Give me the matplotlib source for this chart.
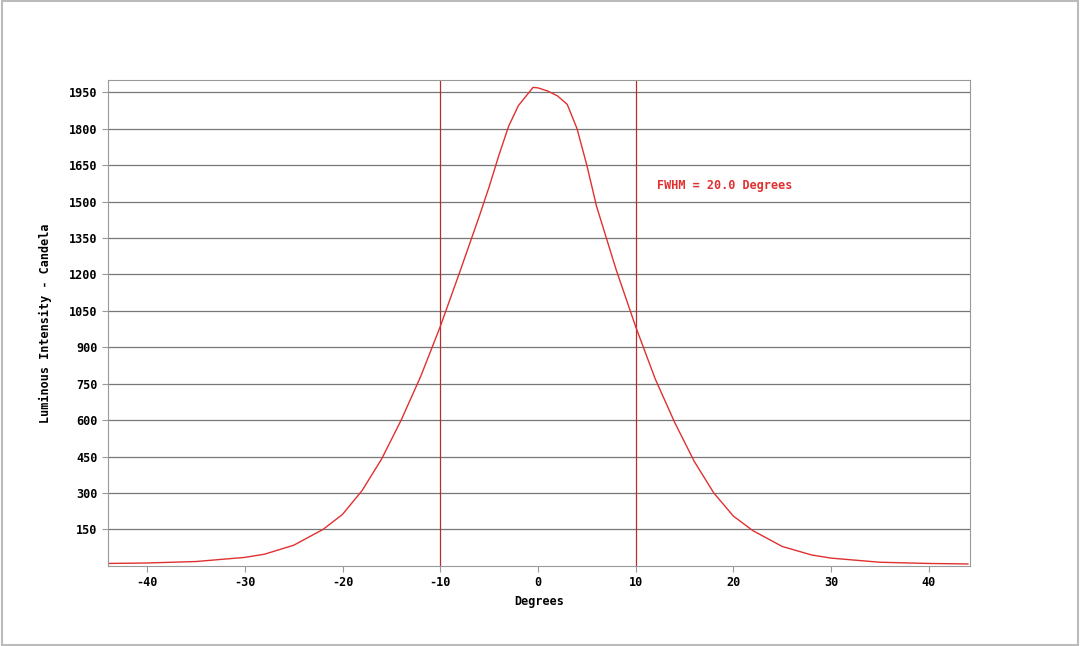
import matplotlib
matplotlib.use("Agg")
import matplotlib.pyplot as plt
from matplotlib.patches import Rectangle

deg = [-44, -40, -35, -30, -28, -25, -22, -20, -18, -16, -14, -12, -10, -8, -6, -5, -4, -3, -2, -1, -0.5, 0, 1, 2, 3, 4, 5, 6, 8, 10, 12, 14, 16, 18, 20, 22, 25, 28, 30, 35, 40, 44]
cd = [10, 12, 18, 35, 48, 85, 150, 212, 310, 440, 600, 780, 985, 1210, 1440, 1560, 1690, 1810, 1895, 1945, 1970, 1968, 1955, 1935, 1900, 1800, 1650, 1480, 1220, 985, 770, 590, 430, 300, 205, 145, 80, 45, 32, 15, 10, 8]
yticks = [150, 300, 450, 600, 750, 900, 1050, 1200, 1350, 1500, 1650, 1800, 1950]
xticks = [-40, -30, -20, -10, 0, 10, 20, 30, 40]
fwhm_lines = [-10, 10]

plt.rcParams['font.family'] = ['DejaVu Sans Mono']
plt.rcParams['axes.unicode_minus'] = False
fig = plt.figure(figsize=(10.8, 6.46), dpi=100)
fig.patches.append(Rectangle((0.002, 0.002), 0.996, 0.996, transform=fig.transFigure,
                             fill=False, edgecolor='#bbbbbb', lw=1.5))
ax = fig.add_axes([0.1, 0.124, 0.798, 0.752])
ax.set_xlim(-44, 44.2)
ax.set_ylim(0, 2000)
ax.set_yticks(yticks)
ax.set_xticks(xticks)
ax.yaxis.grid(True, color='#777777', lw=0.9)
for v in fwhm_lines:
    ax.axvline(v, color='#b03030', lw=0.9)
ax.plot(deg, cd, color='#e03030', lw=1)
ax.text(12.2, 1565, 'FWHM = 20.0 Degrees', color='#e03030', fontsize=8.5, fontweight='bold', va='center')
for s in ax.spines.values():
    s.set_color('#999999')
ax.tick_params(labelsize=8.5, color='#999999', length=4)
for lab in ax.get_xticklabels() + ax.get_yticklabels():
    lab.set_fontweight('bold')
ax.set_xlabel('Degrees', fontsize=8.5, fontweight='bold')
ax.set_ylabel('Luminous Intensity - Candela', fontsize=8.5, fontweight='bold', labelpad=12)
fig.savefig('out.png', dpi=100)
